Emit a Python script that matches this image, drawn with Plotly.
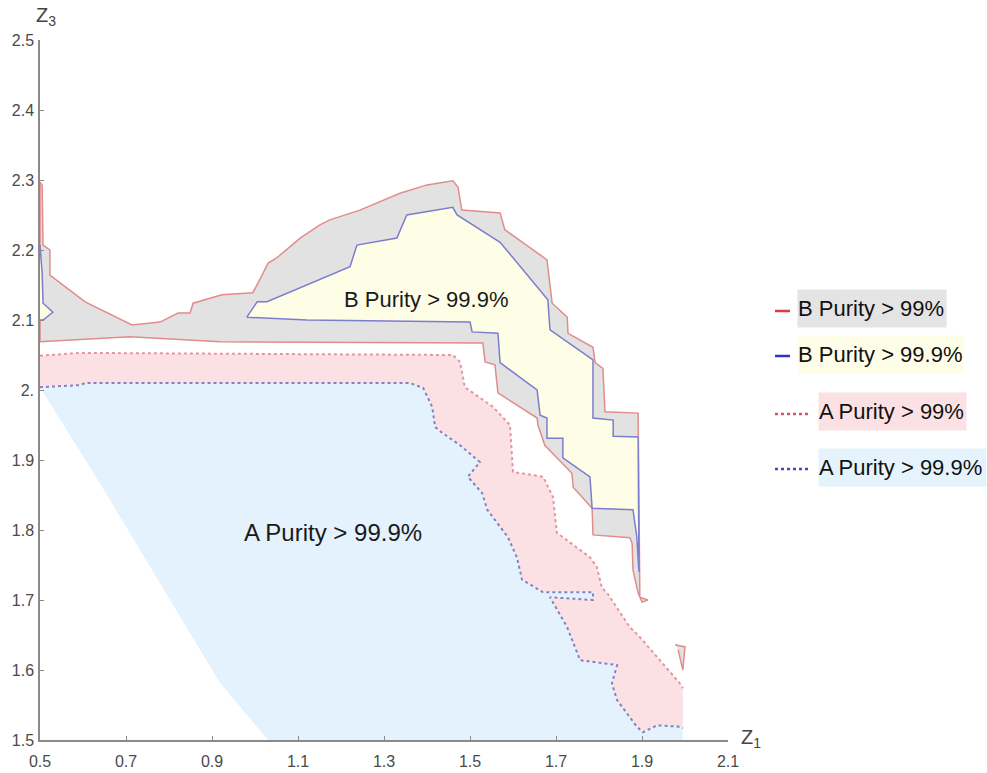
import plotly.graph_objects as go

# ---- region boundaries in (Z1, Z3) ----
# B purity > 99 %  (grey region, solid red outline)
b99_z1 = [0.5, 0.5, 0.505, 0.507, 0.523, 0.523, 0.605, 0.714, 0.779, 0.821,
          0.849, 0.856, 0.923, 0.995, 1.019, 1.030, 1.051, 1.105, 1.151, 1.174,
          1.244, 1.337, 1.400, 1.460, 1.472, 1.481, 1.570, 1.581, 1.679, 1.691,
          1.726, 1.728, 1.786, 1.791, 1.809, 1.814, 1.891, 1.895, 1.914, 1.900,
          1.891, 1.879, 1.877, 1.872, 1.786, 1.784, 1.740, 1.737, 1.674, 1.658,
          1.656, 1.565, 1.558, 1.535, 1.530, 1.105, 0.919, 0.709, 0.5]
b99_z3 = [2.069, 2.297, 2.293, 2.207, 2.200, 2.164, 2.126, 2.093, 2.097, 2.110,
          2.110, 2.124, 2.136, 2.139, 2.167, 2.181, 2.189, 2.217, 2.236, 2.243,
          2.257, 2.281, 2.293, 2.299, 2.290, 2.257, 2.253, 2.229, 2.186, 2.124,
          2.104, 2.081, 2.061, 2.039, 2.031, 1.969, 1.967, 1.704, 1.700, 1.697,
          1.710, 1.743, 1.781, 1.789, 1.793, 1.831, 1.861, 1.881, 1.921, 1.950,
          1.960, 1.996, 2.036, 2.040, 2.067, 2.069, 2.069, 2.076, 2.069]
b99_patch_z1 = [1.977, 2.000, 1.995, 1.984]
b99_patch_z3 = [1.636, 1.633, 1.600, 1.629]

# B purity > 99.9 %  (yellow region, solid blue outline)
b999_z1 = [0.981, 1.005, 1.028, 1.221, 1.237, 1.330, 1.353, 1.460, 1.470, 1.570,
           1.581, 1.681, 1.686, 1.786, 1.786, 1.833, 1.833, 1.891, 1.893, 1.888,
           1.879, 1.784, 1.779, 1.716, 1.716, 1.679, 1.679, 1.663, 1.656, 1.570,
           1.565, 1.505, 1.500, 1.121, 0.981]
b999_z3 = [2.104, 2.126, 2.126, 2.176, 2.207, 2.217, 2.250, 2.261, 2.250, 2.211,
           2.203, 2.129, 2.086, 2.043, 1.960, 1.957, 1.934, 1.933, 1.740, 1.790,
           1.829, 1.831, 1.876, 1.903, 1.931, 1.931, 1.960, 1.964, 2.000, 2.039,
           2.081, 2.083, 2.097, 2.100, 2.104]
b999_patch_z1 = [0.5, 0.505, 0.507, 0.530, 0.507, 0.5]
b999_patch_z3 = [2.207, 2.167, 2.124, 2.111, 2.100, 2.100]

# A purity > 99 %  (upper / right edge, dotted red)
a99_z1 = [0.5, 0.593, 1.460, 1.477, 1.488, 1.553, 1.593, 1.598, 1.600, 1.670,
          1.693, 1.702, 1.779, 1.795, 1.807, 1.819, 1.872, 1.895, 1.988, 1.995]
a99_z3 = [2.049, 2.053, 2.050, 2.040, 2.004, 1.976, 1.950, 1.889, 1.883, 1.876,
          1.847, 1.796, 1.761, 1.747, 1.717, 1.710, 1.661, 1.647, 1.581, 1.574]

# A purity > 99.9 %  (upper / right edge, dotted blue)
a999_z1 = [0.5, 0.593, 0.605, 1.360, 1.391, 1.412, 1.419, 1.435, 1.477, 1.523,
           1.495, 1.528, 1.540, 1.588, 1.609, 1.621, 1.670, 1.786, 1.786, 1.686,
           1.726, 1.756, 1.842, 1.830, 1.842, 1.888, 1.902, 1.935, 1.988, 1.995]
a999_z3 = [2.004, 2.007, 2.010, 2.010, 2.003, 1.976, 1.947, 1.939, 1.921, 1.897,
           1.876, 1.853, 1.829, 1.790, 1.761, 1.729, 1.711, 1.711, 1.700, 1.704,
           1.661, 1.614, 1.607, 1.581, 1.557, 1.519, 1.511, 1.521, 1.519, 1.517]
# lower-left edge of the A > 99.9 % region (from the Z1 axis up to Z1 = 0.5)
a999_low_z1 = [1.995, 1.030, 0.919, 0.872, 0.640, 0.5]
a999_low_z3 = [1.500, 1.500, 1.581, 1.629, 1.866, 2.004]

x_ticks = [0.5, 0.7, 0.9, 1.1, 1.3, 1.5, 1.7, 1.9, 2.1]
x_tick_text = ["0.5", "0.7", "0.9", "1.1", "1.3", "1.5", "1.7", "1.9", "2.1"]
y_ticks = [1.5, 1.6, 1.7, 1.8, 1.9, 2.0, 2.1, 2.2, 2.3, 2.4, 2.5]
y_tick_text = ["1.5", "1.6", "1.7", "1.8", "1.9", "2.", "2.1", "2.2", "2.3", "2.4", "2.5"]

legend_labels = ["B Purity > 99%", "B Purity > 99.9%", "A Purity > 99%", "A Purity > 99.9%"]

# ---- styling ----
FONT = "Liberation Sans, Arial, sans-serif"
GREY_FILL = "rgb(226,226,226)"
YELLOW_FILL = "rgb(254,254,231)"
PINK_FILL = "rgb(252,225,228)"
BLUE_FILL = "rgb(228,242,253)"
RED_LINE = "rgb(226,140,140)"
BLUE_LINE = "rgb(125,125,205)"
RED_DOT = "rgb(228,150,160)"
BLUE_DOT = "rgb(130,130,195)"

W, H = 987, 773
L, R, T, B = 40, 259, 40, 33


def join(*parts):
    xs, ys = [], []
    for px, py in parts:
        if xs:
            xs.append(None)
            ys.append(None)
        xs.extend(px)
        ys.extend(py)
    return xs, ys


fig = go.Figure()

# A > 99 % band: dotted red edge down to the A > 99.9 % edge
pink_x = a99_z1 + a999_z1[::-1]
pink_y = a99_z3 + a999_z3[::-1]
fig.add_trace(go.Scatter(x=pink_x, y=pink_y, mode="lines", fill="toself",
                         fillcolor=PINK_FILL, line=dict(width=0),
                         hoverinfo="skip", showlegend=False))

# A > 99.9 % region
blue_x = a999_z1 + a999_low_z1
blue_y = a999_z3 + a999_low_z3
fig.add_trace(go.Scatter(x=blue_x, y=blue_y, mode="lines", fill="toself",
                         fillcolor=BLUE_FILL, line=dict(width=0),
                         hoverinfo="skip", showlegend=False))

fig.add_trace(go.Scatter(x=a99_z1, y=a99_z3, mode="lines",
                         line=dict(color=RED_DOT, width=2, dash="3px,3px"),
                         hoverinfo="skip", showlegend=False))
fig.add_trace(go.Scatter(x=a999_z1, y=a999_z3, mode="lines",
                         line=dict(color=BLUE_DOT, width=2, dash="3px,3px"),
                         hoverinfo="skip", showlegend=False))

# B > 99 % region
gx, gy = join((b99_z1, b99_z3), (b99_patch_z1, b99_patch_z3))
fig.add_trace(go.Scatter(x=gx, y=gy, mode="lines", fill="toself",
                         fillcolor=GREY_FILL, line=dict(color=RED_LINE, width=1.5),
                         hoverinfo="skip", showlegend=False))

# B > 99.9 % region
yx, yy = join((b999_z1, b999_z3), (b999_patch_z1, b999_patch_z3))
fig.add_trace(go.Scatter(x=yx, y=yy, mode="lines", fill="toself",
                         fillcolor=YELLOW_FILL, line=dict(color=BLUE_LINE, width=1.5),
                         hoverinfo="skip", showlegend=False))

# region labels
fig.add_annotation(x=1.398, y=2.129, xref="x", yref="y", text="B Purity > 99.9%",
                   showarrow=False, font=dict(family=FONT, size=22, color="#1a1a1a"))
fig.add_annotation(x=1.181, y=1.797, xref="x", yref="y", text="A Purity > 99.9%",
                   showarrow=False, font=dict(family=FONT, size=24, color="#1a1a1a"))


# ---- legend built from shapes + boxed labels (pixel helpers) ----
def px_x(px):
    return (px - L) / (W - L - R)


def px_y(py):
    return (H - B - py) / (H - T - B)


legend_rows = [
    dict(y=309, x0=775, x1=790, color="rgb(225,60,60)", dash="solid", tx=797, w=148, bg="rgb(228,228,228)"),
    dict(y=354, x0=775, x1=790, color="rgb(50,50,200)", dash="solid", tx=797, w=165, bg="rgb(253,253,232)"),
    dict(y=412, x0=775, x1=808, color="rgb(225,80,90)", dash="dot", tx=818, w=147, bg="rgb(251,225,228)"),
    dict(y=467, x0=775, x1=808, color="rgb(70,70,190)", dash="dot", tx=818, w=167, bg="rgb(229,243,252)"),
]
for row, label in zip(legend_rows, legend_labels):
    fig.add_shape(type="line", xref="paper", yref="paper",
                  x0=px_x(row["x0"]), x1=px_x(row["x1"]),
                  y0=px_y(row["y"] + 2), y1=px_y(row["y"] + 2),
                  line=dict(color=row["color"], width=2.5, dash=row["dash"]))
    fig.add_annotation(x=px_x(row["tx"]), y=px_y(row["y"]), xref="paper", yref="paper",
                       xanchor="left", yanchor="middle", text=label, showarrow=False,
                       bgcolor=row["bg"], borderpad=0, width=row["w"], height=37,
                       align="left", valign="middle",
                       font=dict(family=FONT, size=22, color="#111111"))

# axis titles
fig.add_annotation(x=px_x(34), y=px_y(16), xref="paper", yref="paper", xanchor="left",
                   yanchor="middle", text="Z<sub>3</sub>", showarrow=False,
                   font=dict(family=FONT, size=20, color="#444444"))
fig.add_annotation(x=px_x(739), y=px_y(738), xref="paper", yref="paper", xanchor="left",
                   yanchor="middle", text="Z<sub>1</sub>", showarrow=False,
                   font=dict(family=FONT, size=20, color="#444444"))

axis_common = dict(showgrid=False, zeroline=False, showline=True, linecolor="#8a8a8a",
                   linewidth=1.5, ticks="inside", ticklen=4, tickcolor="#8a8a8a",
                   automargin=False,
                   tickfont=dict(family=FONT, size=16, color="#4a4a4a"))
fig.update_xaxes(range=[0.5, 2.1], tickvals=x_ticks, ticktext=x_tick_text,
                 ticklabelstandoff=6, **axis_common)
fig.update_yaxes(range=[1.5, 2.5], tickvals=y_ticks, ticktext=y_tick_text,
                 ticklabelstandoff=1, **axis_common)

fig.update_layout(width=W, height=H, margin=dict(l=L, r=R, t=T, b=B, autoexpand=False),
                  plot_bgcolor="white", paper_bgcolor="white")

fig.write_html("out.html")
